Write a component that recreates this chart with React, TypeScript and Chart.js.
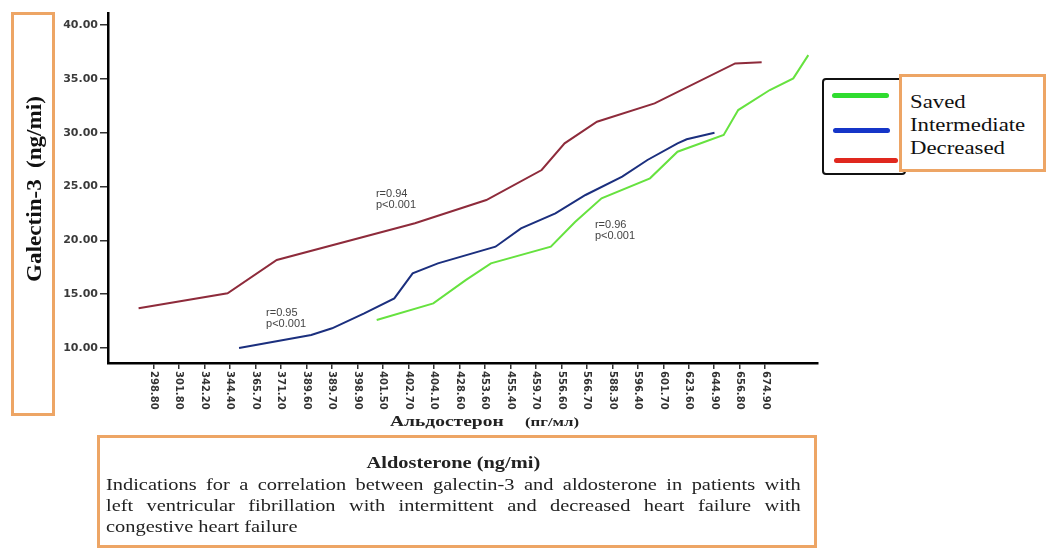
import React, { useEffect, useRef } from "react";
import { Chart, registerables } from "chart.js";

Chart.register(...registerables);

// ---- data ----
const xTickLabels = [
  "298.80", "301.80", "342.20", "344.40", "365.70", "371.20", "389.60", "389.70",
  "398.90", "401.50", "402.70", "404.10", "428.60", "453.60", "455.40", "459.70",
  "556.60", "566.70", "588.30", "596.40", "601.70", "623.60", "644.90", "656.80", "674.90",
];
const yTickValues = [10, 15, 20, 25, 30, 35, 40];

// positions along the category axis (tick index units) and galectin-3 values
const savedX = [8.76, 10.98, 12.25, 13.24, 15.59, 16.54, 17.58, 19.48, 20.56, 22.37, 22.94, 24.18, 25.1, 25.69];
const savedY = [12.6, 14.15, 16.31, 17.86, 19.41, 21.7, 23.9, 25.76, 28.23, 29.78, 32.1, 33.96, 35.04, 37.2];

const intermediateX = [3.36, 6.19, 7.01, 8.27, 9.45, 10.17, 11.16, 13.42, 14.42, 15.77, 16.95, 18.39, 19.38, 20.56, 20.92, 22.01];
const intermediateY = [10.0, 11.21, 11.83, 13.22, 14.61, 16.94, 17.86, 19.41, 21.11, 22.51, 24.21, 25.91, 27.46, 29.01, 29.38, 29.99];

const decreasedX = [-0.58, 2.91, 4.84, 10.26, 13.06, 15.23, 16.13, 17.4, 19.66, 22.82, 23.86];
const decreasedY = [13.69, 15.08, 18.17, 21.58, 23.74, 26.53, 29.01, 31.01, 32.72, 36.43, 36.53];

const seriesNames = ["Saved", "Intermediate", "Decreased"];
const lineColors = ["#66e23f", "#1b2f7e", "#8e2b3b"];
const legendColors = ["#2fdc2f", "#1535c8", "#e0281e"];

const annotationR = ["r=0.95", "r=0.94", "r=0.96"];
const annotationP = ["p<0.001", "p<0.001", "p<0.001"];
const annotationX = [4.42, 8.73, 17.32];
const annotationY = [13.25, 24.3, 21.42];

const xMin = -1.78;
const xMax = 26.07;
const yMin = 8.61;
const yMax = 41.11;

const toPoints = (xs: number[], ys: number[]) => xs.map((x, i) => ({ x, y: ys[i] }));

const overlayPlugin = {
  id: "overlayText",
  afterDraw(chart: any) {
    const ctx = chart.ctx;
    const xs = chart.scales.x;
    const ys = chart.scales.y;
    ctx.save();
    ctx.fillStyle = "#333";
    ctx.font = "bold 10px 'DejaVu Sans'";
    ctx.textAlign = "left";
    ctx.textBaseline = "middle";
    xTickLabels.forEach((lab, i) => {
      const px = xs.getPixelForValue(i);
      ctx.save();
      ctx.translate(px, ys.bottom + 8);
      ctx.rotate(Math.PI / 2);
      ctx.fillText(lab, 0, 0);
      ctx.restore();
    });
    ctx.font = "11px 'Liberation Sans'";
    ctx.fillStyle = "#444";
    annotationR.forEach((r, i) => {
      const px = xs.getPixelForValue(annotationX[i]);
      const py = ys.getPixelForValue(annotationY[i]);
      ctx.fillText(r, px, py);
      ctx.fillText(annotationP[i], px, py + 11);
    });
    ctx.restore();
  },
};

export default function App() {
  const canvasRef = useRef<HTMLCanvasElement | null>(null);

  useEffect(() => {
    if (!canvasRef.current) return;
    const seriesData = [
      toPoints(savedX, savedY),
      toPoints(intermediateX, intermediateY),
      toPoints(decreasedX, decreasedY),
    ];
    const chart = new Chart(canvasRef.current, {
      type: "line",
      data: {
        datasets: seriesNames.map((name, i) => ({
          label: name,
          data: seriesData[i],
          borderColor: lineColors[i],
          backgroundColor: lineColors[i],
          borderWidth: 2,
          pointRadius: 0,
          tension: 0,
          fill: false,
        })),
      },
      options: {
        animation: false,
        responsive: false,
        maintainAspectRatio: false,
        layout: { padding: { left: 63, top: 13, right: 234, bottom: 180 } },
        plugins: { legend: { display: false }, tooltip: { enabled: false } },
        scales: {
          x: {
            type: "linear",
            min: xMin,
            max: xMax,
            afterBuildTicks: (s: any) => {
              s.ticks = xTickLabels.map((_, i) => ({ value: i }));
            },
            ticks: { display: false },
            grid: { drawOnChartArea: false, drawTicks: true, tickLength: 6, color: "#333", lineWidth: 1.5 },
            border: { display: true, color: "#000", width: 2.5 },
          },
          y: {
            type: "linear",
            min: yMin,
            max: yMax,
            afterBuildTicks: (s: any) => {
              s.ticks = yTickValues.map((v) => ({ value: v }));
            },
            afterFit: (s: any) => {
              s.width = 45;
            },
            ticks: {
              callback: (v: any) => Number(v).toFixed(2),
              font: { family: "DejaVu Sans", size: 11, weight: "bold" },
              color: "#3a3a3a",
              padding: 2,
            },
            grid: { drawOnChartArea: false, drawTicks: true, tickLength: 8, color: "#333", lineWidth: 1.5 },
            border: { display: true, color: "#000", width: 2.5 },
          },
        },
      },
      plugins: [overlayPlugin],
    } as any);
    return () => chart.destroy();
  }, []);

  const orange = "#eda565";
  const serif = "'Liberation Serif', serif";

  return (
    <div
      style={{
        position: "fixed",
        left: 0,
        top: 0,
        width: 1052,
        height: 549,
        background: "#fff",
        overflow: "hidden",
      }}
    >
      <canvas ref={canvasRef} width={1052} height={549} style={{ position: "absolute", left: 0, top: 0 }} />

      {/* Y axis title box */}
      <div
        style={{
          position: "absolute",
          left: 11,
          top: 12,
          width: 44,
          height: 404,
          boxSizing: "border-box",
          border: `3px solid ${orange}`,
        }}
      />
      <div
        style={{
          position: "absolute",
          left: 34,
          top: 189,
          transform: "translate(-50%, -50%) rotate(-90deg) scaleX(1.1)",
          whiteSpace: "nowrap",
          font: `bold 21px ${serif}`,
          wordSpacing: 5,
          color: "#111",
        }}
      >
        Galectin-3 (ng/mi)
      </div>

      {/* X axis title */}
      <div
        style={{
          position: "absolute",
          left: 390,
          top: 421,
          transform: "translateY(-50%) scaleX(1.3)",
          transformOrigin: "left center",
          whiteSpace: "nowrap",
          font: `bold 15px ${serif}`,
          color: "#222",
        }}
      >
        Альдостерон
      </div>
      <div
        style={{
          position: "absolute",
          left: 525,
          top: 422,
          transform: "translateY(-50%) scaleX(1.4)",
          transformOrigin: "left center",
          whiteSpace: "nowrap",
          font: `bold 12px ${serif}`,
          color: "#222",
        }}
      >
        (пг/мл)
      </div>

      {/* Legend */}
      <div
        style={{
          position: "absolute",
          left: 822,
          top: 78,
          width: 84,
          height: 97,
          boxSizing: "border-box",
          border: "2.5px solid #111",
          borderRadius: 4,
          background: "#fff",
        }}
      />
      {legendColors.map((c, i) => (
        <div
          key={c}
          style={{
            position: "absolute",
            left: 832 + i,
            top: [93, 128, 158][i],
            width: [57, 57, 64][i],
            height: 5,
            borderRadius: 3,
            background: c,
          }}
        />
      ))}
      <div
        style={{
          position: "absolute",
          left: 899,
          top: 74,
          width: 147,
          height: 98,
          boxSizing: "border-box",
          border: `3px solid ${orange}`,
          background: "#fff",
        }}
      />
      <div
        style={{
          position: "absolute",
          left: 910,
          top: 90,
          transform: "scaleX(1.2)",
          transformOrigin: "left top",
          font: `19px ${serif}`,
          lineHeight: "23px",
          color: "#111",
          whiteSpace: "nowrap",
        }}
      >
        {seriesNames.map((n) => (
          <div key={n}>{n}</div>
        ))}
      </div>

      {/* Caption box */}
      <div
        style={{
          position: "absolute",
          left: 97,
          top: 435,
          width: 720,
          height: 113,
          boxSizing: "border-box",
          border: `3px solid ${orange}`,
        }}
      />
      <div
        style={{
          position: "absolute",
          left: 106,
          top: 452,
          width: 579,
          transform: "scaleX(1.2)",
          transformOrigin: "left top",
          font: `17px ${serif}`,
          color: "#222",
        }}
      >
        <div style={{ fontWeight: "bold", textAlign: "center", lineHeight: "22px" }}>Aldosterone (ng/mi)</div>
        <div style={{ lineHeight: "21px", textAlign: "justify", textAlignLast: "justify" } as any}>
          Indications for a correlation between galectin-3 and aldosterone in patients with
        </div>
        <div style={{ lineHeight: "21px", textAlign: "justify", textAlignLast: "justify" } as any}>
          left ventricular fibrillation with intermittent and decreased heart failure with
        </div>
        <div style={{ lineHeight: "21px" }}>congestive heart failure</div>
      </div>
    </div>
  );
}
